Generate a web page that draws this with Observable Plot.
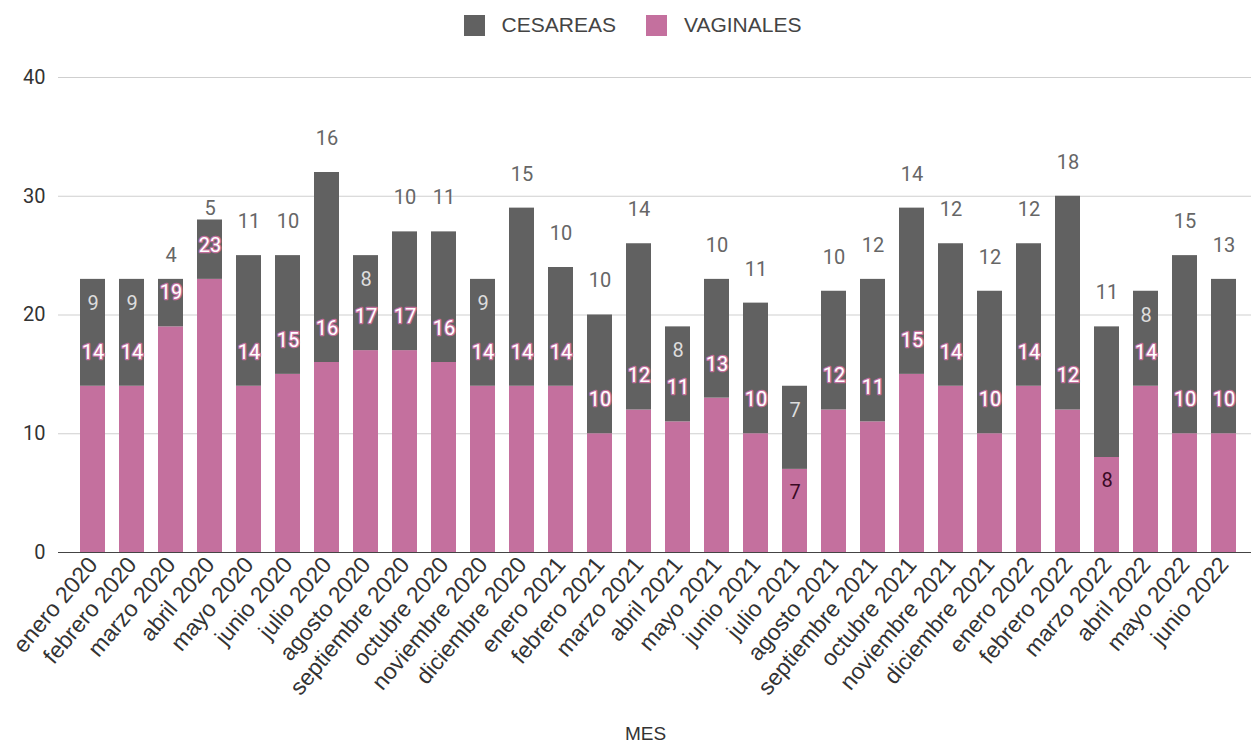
<!DOCTYPE html>
<html>
<head>
<meta charset="utf-8">
<script src="https://cdn.jsdelivr.net/npm/d3@7"></script>
<script src="https://cdn.jsdelivr.net/npm/@observablehq/plot@0.6"></script>
<style>
  html, body { margin: 0; padding: 0; background: #fff; }
  #legend { height: 50px; display: flex; justify-content: center; align-items: center; padding-left: 14px;
    font-family: "Liberation Sans", Arial, sans-serif; font-size: 21px; color: #444; }
  .item { display: flex; align-items: center; margin: 0 15px; }
  .sw { width: 21px; height: 21px; margin-right: 17px; }
  #xtitle { height: 23px; line-height: 23px; text-align: center; padding-left: 40px;
    font-family: "Liberation Sans", Arial, sans-serif; font-size: 19px; color: #333; }
</style>
</head>
<body>
<div id="legend"></div>
<div id="chart"></div>
<div id="xtitle"></div>
<script>
const months = ["enero 2020","febrero 2020","marzo 2020","abril 2020","mayo 2020","junio 2020","julio 2020","agosto 2020","septiembre 2020","octubre 2020","noviembre 2020","diciembre 2020",
  "enero 2021","febrero 2021","marzo 2021","abril 2021","mayo 2021","junio 2021","julio 2021","agosto 2021","septiembre 2021","octubre 2021","noviembre 2021","diciembre 2021",
  "enero 2022","febrero 2022","marzo 2022","abril 2022","mayo 2022","junio 2022"];
const vaginales = [14,14,19,23,14,15,16,17,17,16,14,14, 14,10,12,11,13,10,7,12,11,15,14,10, 14,12,8,14,10,10];
const cesareas  = [9,9,4,5,11,10,16,8,10,11,9,15, 10,10,14,8,10,11,7,10,12,14,12,12, 12,18,11,8,15,13];
const seriesNames = ["CESAREAS", "VAGINALES"];
const yTicks = [0, 10, 20, 30, 40];
const xTitle = "MES";

const colors = { CESAREAS: "#616161", VAGINALES: "#c4709e" };

const rows = months.map((m, i) => ({
  mes: m, v: vaginales[i], c: cesareas[i], total: vaginales[i] + cesareas[i]
}));

// legend
const lg = document.getElementById("legend");
seriesNames.forEach(n => {
  const it = document.createElement("div"); it.className = "item";
  const sw = document.createElement("div"); sw.className = "sw"; sw.style.background = colors[n];
  const tx = document.createElement("span"); tx.textContent = n;
  it.appendChild(sw); it.appendChild(tx); lg.appendChild(it);
});
document.getElementById("xtitle").textContent = xTitle;

const vagAbove = rows.filter(d => d.v >= 10);
const vagInside = rows.filter(d => d.v < 10);
const cesAbove = rows.filter(d => d.c >= 10);
const cesInside = rows.filter(d => d.c >= 6 && d.c < 10);
const cesSmall = rows.filter(d => d.c < 6);

const labelFont = "Roboto, 'Noto Sans', sans-serif";

const chart = Plot.plot({
  width: 1251,
  height: 672,
  marginTop: 27,
  marginBottom: 170,
  marginLeft: 58,
  marginRight: 0,
  style: { fontFamily: labelFont, background: "#fff" },
  x: { domain: months, paddingInner: 0.37, paddingOuter: 0.2, insetLeft: 6, label: null },
  y: { domain: [0, 40], label: null },
  marks: [
    Plot.gridY(yTicks, { stroke: "#cfcfcf", strokeOpacity: 1, strokeWidth: 1 }),
    Plot.barY(rows, { x: "mes", y: "v", fill: colors.VAGINALES }),
    Plot.barY(rows, { x: "mes", y1: "v", y2: "total", fill: colors.CESAREAS }),
    Plot.ruleY([0], { stroke: "#444", strokeWidth: 1.2 }),
    Plot.axisY({ ticks: yTicks, tickSize: 0, tickPadding: 13, fontSize: 20, fill: "#333", label: null, fontFamily: labelFont }),
    Plot.axisX({ tickSize: 0, tickPadding: 8, tickRotate: -50, fontSize: 23, fill: "#333", label: null,
      fontFamily: "'Liberation Sans', Arial, sans-serif" }),
    // vaginal labels
    Plot.text(vagAbove, { x: "mes", y: "v", text: d => String(d.v), dy: -34, fontSize: 20,
      fill: "#ffffff", stroke: colors.VAGINALES, strokeWidth: 2.5, paintOrder: "stroke", fontFamily: labelFont }),
    Plot.text(vagInside, { x: "mes", y: "v", text: d => String(d.v), dy: 23, fontSize: 20,
      fill: "#3a0a24", fontFamily: labelFont }),
    // cesarea labels
    Plot.text(cesAbove, { x: "mes", y: "total", text: d => String(d.c), dy: -34, fontSize: 20,
      fill: "#666666", fontFamily: labelFont }),
    Plot.text(cesInside, { x: "mes", y: "total", text: d => String(d.c), dy: 24, fontSize: 20,
      fill: "#dddddd", fontFamily: labelFont }),
    Plot.text(cesSmall, { x: "mes", y: "v", text: d => String(d.c), dy: -71, fontSize: 20,
      fill: "#666666", fontFamily: labelFont })
  ]
});
document.getElementById("chart").appendChild(chart);
</script>
</body>
</html>
